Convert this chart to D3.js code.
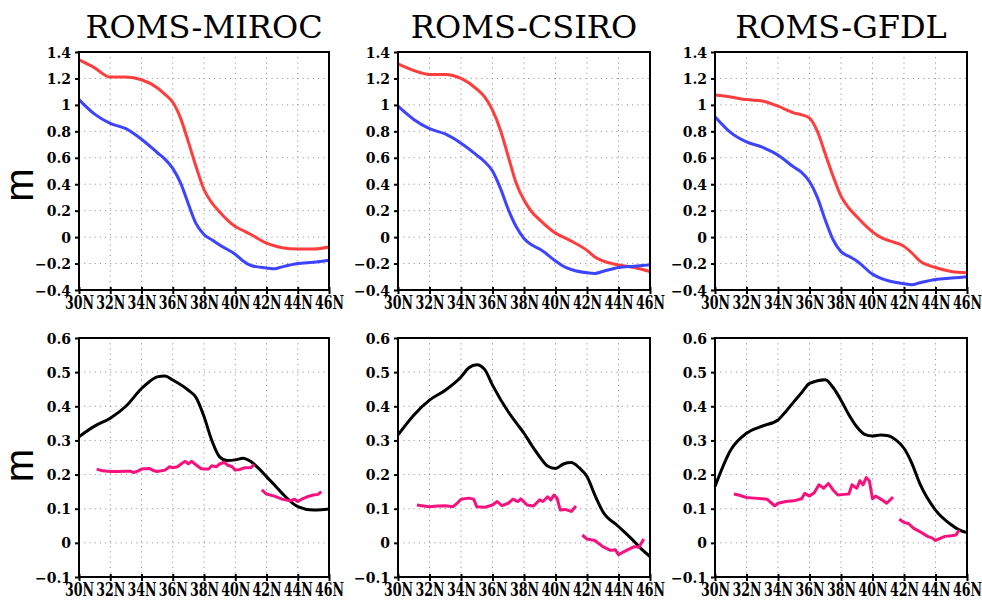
<!DOCTYPE html>
<html>
<head>
<meta charset="utf-8">
<script src="https://cdn.jsdelivr.net/npm/d3@7"></script>
<style>
  body { margin: 0; background: #fff; }
  svg { display: block; }
</style>
</head>
<body>
<svg id="chart" width="982" height="601"></svg>
<script>
// Panel titles
const models = ['ROMS-MIROC', 'ROMS-CSIRO', 'ROMS-GFDL'];

// Tick labels
const latTicks = [30, 32, 34, 36, 38, 40, 42, 44, 46];
const topTicks = [-0.4, -0.2, 0, 0.2, 0.4, 0.6, 0.8, 1, 1.2, 1.4];
const bottomTicks = [-0.1, 0, 0.1, 0.2, 0.3, 0.4, 0.5, 0.6];

// Top row: latitudes shared by the red and blue curves
const topLat = [30, 31, 32, 33, 34, 35, 35.5, 36, 36.5, 37, 37.5, 38, 38.5, 39, 40, 40.5, 41, 42, 42.5, 43, 44, 45, 46];
const mirocRed  = [1.34, 1.28, 1.21, 1.21, 1.19, 1.13, 1.08, 1.02, 0.90, 0.72, 0.53, 0.36, 0.26, 0.19, 0.08, 0.05, 0.02, -0.045, -0.065, -0.08, -0.09, -0.09, -0.075];
const mirocBlue = [1.04, 0.93, 0.86, 0.82, 0.74, 0.64, 0.59, 0.52, 0.41, 0.25, 0.10, 0.02, -0.02, -0.06, -0.13, -0.18, -0.215, -0.233, -0.24, -0.225, -0.20, -0.19, -0.175];
const csiroRed  = [1.31, 1.26, 1.23, 1.23, 1.20, 1.12, 1.06, 0.96, 0.81, 0.61, 0.41, 0.28, 0.19, 0.13, 0.03, 0.0, -0.03, -0.10, -0.15, -0.18, -0.21, -0.23, -0.26];
const csiroBlue = [0.99, 0.89, 0.82, 0.78, 0.71, 0.62, 0.57, 0.50, 0.37, 0.21, 0.08, -0.01, -0.06, -0.09, -0.18, -0.22, -0.245, -0.27, -0.275, -0.26, -0.23, -0.22, -0.21];
const gfdlRed   = [1.075, 1.06, 1.04, 1.03, 0.99, 0.94, 0.925, 0.90, 0.80, 0.63, 0.46, 0.31, 0.22, 0.155, 0.04, 0.0, -0.025, -0.07, -0.12, -0.18, -0.23, -0.26, -0.27];
const gfdlBlue  = [0.91, 0.79, 0.72, 0.68, 0.62, 0.53, 0.49, 0.42, 0.30, 0.13, -0.02, -0.11, -0.145, -0.18, -0.28, -0.31, -0.33, -0.353, -0.36, -0.345, -0.32, -0.31, -0.30];

// Bottom row: black curves
const botLat = [30, 31, 32, 33, 34, 34.5, 35, 35.5, 36, 37, 37.5, 38, 38.5, 39, 39.5, 40, 40.5, 41, 41.5, 42, 42.5, 43, 44, 45, 45.5, 46];
const mirocBlack = [0.311, 0.342, 0.365, 0.40, 0.452, 0.472, 0.486, 0.489, 0.477, 0.447, 0.425, 0.37, 0.30, 0.252, 0.241, 0.243, 0.248, 0.238, 0.218, 0.194, 0.17, 0.145, 0.106, 0.096, 0.097, 0.099];
const csiroBlack = [0.316, 0.374, 0.418, 0.447, 0.486, 0.513, 0.522, 0.508, 0.462, 0.384, 0.352, 0.321, 0.285, 0.252, 0.225, 0.218, 0.231, 0.235, 0.22, 0.194, 0.14, 0.092, 0.048, 0.004, -0.02, -0.04];
const gfdlBlack  = [0.165, 0.272, 0.321, 0.342, 0.36, 0.385, 0.413, 0.44, 0.467, 0.478, 0.455, 0.418, 0.375, 0.34, 0.318, 0.313, 0.316, 0.314, 0.301, 0.277, 0.233, 0.174, 0.096, 0.053, 0.038, 0.030];

// Bottom row: pink (observed) curves, null marks the gap
const mirocObsLat = [31.13, 31.5, 32, 32.5, 33, 33.3, 33.5, 33.8, 34, 34.5, 34.8, 35, 35.5, 35.8, 36, 36.3, 36.6, 36.8, 37, 37.2, 37.5, 37.8, 38, 38.3, 38.5, 38.8, 39, 39.3, 39.5, 39.8, 40, 40.3, 40.6, 41, 41.2, 41.5, 41.7, 42, 42.5, 43, 43.5, 43.8, 44, 44.3, 44.6, 45, 45.3, 45.5];
const mirocObs = [0.216, 0.211, 0.209, 0.209, 0.21, 0.21, 0.206, 0.211, 0.216, 0.218, 0.211, 0.209, 0.213, 0.223, 0.22, 0.223, 0.233, 0.239, 0.231, 0.239, 0.228, 0.218, 0.216, 0.216, 0.226, 0.223, 0.231, 0.236, 0.228, 0.223, 0.213, 0.215, 0.22, 0.22, 0.23, null, 0.155, 0.143, 0.137, 0.128, 0.123, 0.128, 0.121, 0.129, 0.135, 0.14, 0.142, 0.15];
const csiroObsLat = [31.2, 31.5, 32, 32.5, 33, 33.5, 33.8, 34, 34.5, 34.8, 35, 35.5, 36, 36.3, 36.6, 37, 37.3, 37.6, 37.8, 38.2, 38.6, 39, 39.2, 39.5, 39.7, 39.9, 40.1, 40.3, 40.6, 41, 41.3, 41.5, 41.7, 42, 42.5, 43, 43.5, 43.8, 44, 44.3, 44.6, 45, 45.3, 45.6];
const csiroObs = [0.111, 0.109, 0.106, 0.108, 0.109, 0.106, 0.118, 0.128, 0.131, 0.128, 0.106, 0.104, 0.111, 0.121, 0.109, 0.116, 0.128, 0.121, 0.129, 0.111, 0.108, 0.126, 0.121, 0.135, 0.126, 0.14, 0.131, 0.096, 0.098, 0.092, 0.108, null, 0.023, 0.011, 0.007, -0.011, -0.022, -0.02, -0.035, -0.027, -0.02, -0.011, -0.013, 0.011];
const gfdlObsLat = [31.2, 31.5, 32, 32.5, 33, 33.3, 33.6, 33.8, 34, 34.5, 35, 35.5, 35.7, 36, 36.3, 36.6, 36.9, 37.2, 37.5, 37.8, 38.2, 38.5, 38.7, 39, 39.2, 39.4, 39.6, 39.8, 40, 40.2, 40.6, 40.9, 41.3, 41.5, 41.7, 42, 42.3, 42.6, 43, 43.5, 43.8, 44, 44.3, 44.6, 45, 45.3, 45.5];
const gfdlObs = [0.143, 0.14, 0.133, 0.131, 0.129, 0.128, 0.116, 0.108, 0.116, 0.121, 0.123, 0.129, 0.145, 0.137, 0.147, 0.17, 0.16, 0.174, 0.155, 0.14, 0.142, 0.143, 0.17, 0.16, 0.182, 0.17, 0.191, 0.182, 0.129, 0.137, 0.126, 0.116, 0.134, null, 0.069, 0.06, 0.056, 0.043, 0.033, 0.019, 0.014, 0.007, 0.013, 0.019, 0.021, 0.023, 0.038];

const topSeries = [[mirocRed, mirocBlue], [csiroRed, csiroBlue], [gfdlRed, gfdlBlue]];
const blackSeries = [mirocBlack, csiroBlack, gfdlBlack];
const obsSeries = [[mirocObsLat, mirocObs], [csiroObsLat, csiroObs], [gfdlObsLat, gfdlObs]];

// Layout
const colX = [[79, 329], [398, 650], [715, 967]];
const topY = [52, 290];
const botY = [338, 577];
const colors = { red: '#ff3d3d', blue: '#3d44ff', black: '#000', pink: '#f5127f' };
const tickFont = '"DejaVu Serif", serif';

const svg = d3.select('#chart');
svg.append('rect').attr('width', 982).attr('height', 601).attr('fill', '#fff');

const fmtY = d3.format('~g');

function drawFrame(g, x, y, yTicks) {
    const [x0, x1] = x.range();
    const [y1, y0] = y.range();

    // Dotted grid
    g.append('g').selectAll('line')
        .data(latTicks.slice(1, -1))
        .enter().append('line')
            .attr('x1', d => x(d)).attr('x2', d => x(d))
            .attr('y1', y0).attr('y2', y1)
            .attr('stroke', '#9a9a9a').attr('stroke-width', 1)
            .attr('stroke-dasharray', '1.2,4');
    g.append('g').selectAll('line')
        .data(yTicks.slice(1, -1))
        .enter().append('line')
            .attr('x1', x0).attr('x2', x1)
            .attr('y1', d => y(d)).attr('y2', d => y(d))
            .attr('stroke', '#9a9a9a').attr('stroke-width', 1)
            .attr('stroke-dasharray', '1.2,4');

    // Axes
    const yAxis = d3.axisLeft(y).tickValues(yTicks).tickFormat(fmtY).tickSize(4).tickPadding(4);
    const xAxis = d3.axisBottom(x).tickValues(latTicks).tickFormat(d => d + 'N').tickSize(4).tickPadding(2);

    const ya = g.append('g').attr('transform', `translate(${x0},0)`).call(yAxis);
    ya.select('.domain').remove();
    ya.selectAll('.tick line').attr('stroke-width', 2);
    ya.selectAll('.tick text')
        .style('font-family', tickFont)
        .style('font-weight', 'bold')
        .style('font-size', '14px')
        .attr('fill', '#000')
        .attr('dy', '0.36em');

    const xa = g.append('g').attr('transform', `translate(0,${y1})`).call(xAxis);
    xa.select('.domain').remove();
    xa.selectAll('.tick line').attr('stroke-width', 2).attr('y1', -3);
    xa.selectAll('.tick text')
        .style('font-family', tickFont)
        .style('font-weight', 'bold')
        .style('font-size', '18px')
        .attr('fill', '#000')
        .attr('dy', '0.72em')
        .attr('textLength', 29)
        .attr('lengthAdjust', 'spacingAndGlyphs');
}

function drawBox(g, x, y) {
    const [x0, x1] = x.range();
    const [y1, y0] = y.range();
    g.append('rect')
        .attr('x', x0).attr('y', y0)
        .attr('width', x1 - x0).attr('height', y1 - y0)
        .attr('fill', 'none').attr('stroke', '#000').attr('stroke-width', 2);
}

models.forEach((name, i) => {
    const x = d3.scaleLinear().domain([30, 46]).range(colX[i]);
    const yT = d3.scaleLinear().domain([-0.4, 1.4]).range([topY[1], topY[0]]);
    const yB = d3.scaleLinear().domain([-0.1, 0.6]).range([botY[1], botY[0]]);

    // Title
    svg.append('text')
        .attr('x', (colX[i][0] + colX[i][1]) / 2)
        .attr('y', 38)
        .attr('text-anchor', 'middle')
        .style('font-family', '"DejaVu Serif", serif')
        .style('font-size', '32px')
        .text(name);

    // Top panel
    const gT = svg.append('g');
    drawFrame(gT, x, yT, topTicks);
    const smooth = d3.line()
        .x(d => x(d[0]))
        .y(d => yT(d[1]))
        .curve(d3.curveMonotoneX);
    const [red, blue] = topSeries[i];
    gT.append('path')
        .datum(topLat.map((lat, k) => [lat, red[k]]))
        .attr('d', smooth)
        .attr('fill', 'none').attr('stroke', colors.red).attr('stroke-width', 3);
    gT.append('path')
        .datum(topLat.map((lat, k) => [lat, blue[k]]))
        .attr('d', smooth)
        .attr('fill', 'none').attr('stroke', colors.blue).attr('stroke-width', 3);
    drawBox(gT, x, yT);

    // Bottom panel
    const gB = svg.append('g');
    drawFrame(gB, x, yB, bottomTicks);
    const smoothB = d3.line()
        .x(d => x(d[0]))
        .y(d => yB(d[1]))
        .curve(d3.curveMonotoneX);
    gB.append('path')
        .datum(botLat.map((lat, k) => [lat, blackSeries[i][k]]))
        .attr('d', smoothB)
        .attr('fill', 'none').attr('stroke', colors.black).attr('stroke-width', 3);

    const [obsLat, obs] = obsSeries[i];
    const obsLine = d3.line()
        .defined(d => d[1] != null)
        .x(d => x(d[0]))
        .y(d => yB(d[1]));
    gB.append('path')
        .datum(obsLat.map((lat, k) => [lat, obs[k]]))
        .attr('d', obsLine)
        .attr('fill', 'none').attr('stroke', colors.pink).attr('stroke-width', 3)
        .attr('stroke-linejoin', 'round');
    drawBox(gB, x, yB);
});

// Y-axis unit labels
[(topY[0] + topY[1]) / 2 + 14, (botY[0] + botY[1]) / 2 + 8].forEach(cy => {
    svg.append('text')
        .attr('transform', `translate(33,${cy}) rotate(-90)`)
        .attr('text-anchor', 'middle')
        .style('font-family', '"Liberation Sans", sans-serif')
        .style('font-size', '40px')
        .text('m');
});
</script>
</body>
</html>
